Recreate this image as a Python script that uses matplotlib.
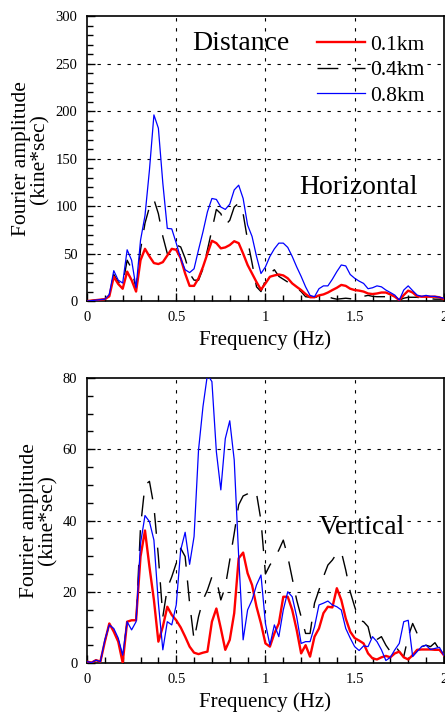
import numpy as np
import matplotlib
matplotlib.use("Agg")
import matplotlib.pyplot as plt
import matplotlib.ticker as ticker

plt.rcParams['font.family'] = ['Liberation Serif', 'DejaVu Serif']

freq = np.round(np.arange(0, 81) * 0.025, 3)

# horizontal component (kine*sec)
h_01 = [0, 0.5, 1, 1.5, 2, 5, 25.6, 18, 13, 31, 22, 10, 43, 55, 47, 40, 39, 41, 48, 55,
        54, 45, 29, 16, 16, 24, 36, 50, 63.5, 61, 55.5, 56.5, 59, 63, 61, 50, 38, 29, 20, 12,
        18.6, 25.6, 27, 28, 27, 24, 18.6, 15, 11.6, 7.4, 4, 4, 6, 7, 9, 11.6, 14, 17, 16, 13,
        11.6, 11, 10, 8, 7.4, 8, 9, 9, 7, 4.6, 1, 6.3, 11, 9, 5, 4.6, 4.6, 4.6, 4.6, 4, 2]
h_04 = [0, 0.5, 1, 1.5, 2, 6, 28, 20, 17, 43, 34, 13, 54, 82, 99, 107, 92, 68, 50, 50,
        59, 57, 45, 29, 22, 22, 34, 54, 75, 96.5, 92, 80, 85, 99, 103, 92, 64, 40, 15, 10,
        22, 29, 33, 26, 23, 20, 17, 14, 10, 4.6, 4, 4, 4.6, 4, 4.6, 3, 2, 2.5, 3, 2.5,
        2, 4.6, 5, 6, 5, 4.6, 4.6, 4.6, 4, 3, 1, 3, 4, 4, 4, 3, 2.5, 2.5, 2, 2, 2]
h_08 = [0, 0.5, 1, 1.5, 2, 7, 32, 22, 19, 54, 43, 14, 64, 90, 138, 196, 182, 124, 76.5, 76,
        61, 45, 33, 30, 34, 54, 73, 94, 108, 107, 99, 96.5, 102, 117, 122, 108, 80, 68, 47, 29,
        36, 47, 55, 61, 61, 56.5, 47, 36, 26, 15, 6, 4.6, 13, 16, 16, 23, 31, 38, 37, 28,
        24, 21, 18.6, 13, 14, 16, 15, 11.6, 9, 6.3, 1, 11.6, 16, 11, 6.3, 5, 6, 5, 5, 4, 3]

# vertical component (kine*sec)
v_01 = [0.4, 0.1, 0.8, 0.4, 6, 11.1, 8.8, 6, 0.1, 11.6, 12, 12, 29.9, 37.2, 27, 17.7, 6, 10.2, 15.8, 13.5,
        12, 10, 7.4, 4.6, 2.9, 2.5, 2.9, 3.2, 11.6, 15.3, 9.7, 3.7, 6.5, 14, 29.4, 31, 25.2, 21.9, 15.8, 11.1,
        5.5, 4.6, 8.3, 11.1, 18.6, 18.6, 14.9, 9.3, 2.7, 5, 1.8, 7.4, 9.7, 14, 15.8, 15.6, 21, 17.7, 12.5, 8.8,
        7, 6.3, 5.5, 2.7, 1.3, 1, 1.6, 2, 1.6, 2.7, 3.2, 1.6, 1, 2.2, 3.7, 3.8, 3.8, 3.8, 3.7, 3.7, 2.2]
v_04 = [0.4, 0.1, 0.8, 0.4, 6, 11, 9.3, 6.5, 1.8, 11.6, 10.2, 11.6, 38.3, 50, 51, 44, 29.9, 13, 21, 24.2,
        28, 32.2, 29.9, 16.8, 6.5, 13, 17.7, 20.5, 24.2, 23.5, 17.7, 21.4, 28.9, 36.4, 44.4, 46.9, 47.5, 48.6, 47.6, 40,
        25, 27.5, 29.4, 31.7, 34.5, 29.9, 23.8, 17.7, 13, 8.3, 8.3, 16.8, 20.5, 24.2, 27.5, 28.9, 30.8, 31.3, 26.1, 20,
        15.8, 12, 11.6, 10.2, 5, 6.6, 7.4, 5, 3.2, 5, 3.2, 1.8, 7.4, 11.1, 8.3, 4.6, 5, 4.6, 5.7, 3.7, 2.7]
v_08 = [0.4, 0.1, 0.8, 0.4, 6.5, 10.7, 9.7, 7, 2.2, 11.6, 9.3, 11.6, 33.6, 41.4, 39.7, 34.5, 16.8, 3.7, 11.6, 10.7,
        16.3, 31.7, 36.7, 27.7, 35.5, 59.8, 72, 81, 79, 59.3, 48.6, 63, 68, 57, 29.9, 6.5, 14.9, 17.7, 21.9, 24.7,
        11.1, 5, 10.7, 7.4, 14.9, 20, 18.6, 13, 5.5, 6, 6, 10.2, 16.3, 16.8, 17.4, 16.3, 15.8, 14.9, 9.7, 7,
        4.6, 3.5, 4.8, 4.6, 7.4, 6, 3.7, 0.7, 1.6, 3.7, 5.5, 11.6, 12, 1.8, 3.2, 4.6, 5, 3.8, 4.1, 4.4, 2.2]

labels = ['0.1km', '0.4km', '0.8km']


def style_axes(ax, ymax, ymajor, yminor):
    ax.set_xlim(0, 2)
    ax.set_ylim(0, ymax)
    ax.xaxis.set_major_locator(ticker.FixedLocator([0, 0.5, 1, 1.5, 2]))
    ax.xaxis.set_major_formatter(ticker.FixedFormatter(['0', '0.5', '1', '1.5', '2']))
    ax.xaxis.set_minor_locator(ticker.MultipleLocator(0.1))
    ax.yaxis.set_major_locator(ticker.MultipleLocator(ymajor))
    ax.yaxis.set_minor_locator(ticker.MultipleLocator(yminor))
    ax.tick_params(which='both', direction='in', top=False, right=False,
                   labelsize=10.5, pad=7)
    ax.tick_params(which='major', length=6, width=1)
    ax.tick_params(which='minor', length=4, width=1)
    for sp in ax.spines.values():
        sp.set_linewidth(1.2)
    # grid only at the inner major positions
    for x in [0.5, 1, 1.5]:
        ax.axvline(x, color='black', lw=0.8, linestyle=(0, (3, 6)), zorder=0)
    for y in np.arange(ymajor, ymax, ymajor):
        ax.axhline(y, color='black', lw=0.8, linestyle=(0, (3, 6)), zorder=0)
    ax.set_xlabel('Frequency (Hz)', fontsize=15, labelpad=5)
    ax.set_ylabel('Fourier amplitude\n(kine*sec)', fontsize=15.5, labelpad=4,
                  linespacing=0.95)


fig = plt.figure(figsize=(4.45, 7.22), dpi=100)
ax1 = fig.add_axes([0.1955, 0.583, 0.802, 0.3947])
ax2 = fig.add_axes([0.1955, 0.0817, 0.802, 0.3947])

for ax, (a, b, c) in [(ax1, (h_01, h_04, h_08)), (ax2, (v_01, v_04, v_08))]:
    ax.plot(freq, a, color='red', lw=1.7, label=labels[0], zorder=3)
    ax.plot(freq, b, color='black', lw=1.0, dashes=(15, 10), label=labels[1], zorder=2)
    ax.plot(freq, c, color='blue', lw=0.9, label=labels[2], zorder=4)

style_axes(ax1, 300, 50, 10)
style_axes(ax2, 80, 20, 5)

# legend
h, l = ax1.get_legend_handles_labels()
ax1.legend(h, l, loc='upper left', bbox_to_anchor=(0.644, 0.935), frameon=False,
           fontsize=15.5, handlelength=2.25, handletextpad=0.23, labelspacing=0.26,
           borderaxespad=0, borderpad=0)

ax1.text(0.43, 0.905, 'Distance', transform=ax1.transAxes, fontsize=20,
         ha='center', va='center')
ax1.text(0.76, 0.4, 'Horizontal', transform=ax1.transAxes, fontsize=20,
         ha='center', va='center')
ax2.text(0.77, 0.477, 'Vertical', transform=ax2.transAxes, fontsize=20,
         ha='center', va='center')

fig.savefig('out.png', dpi=100)
